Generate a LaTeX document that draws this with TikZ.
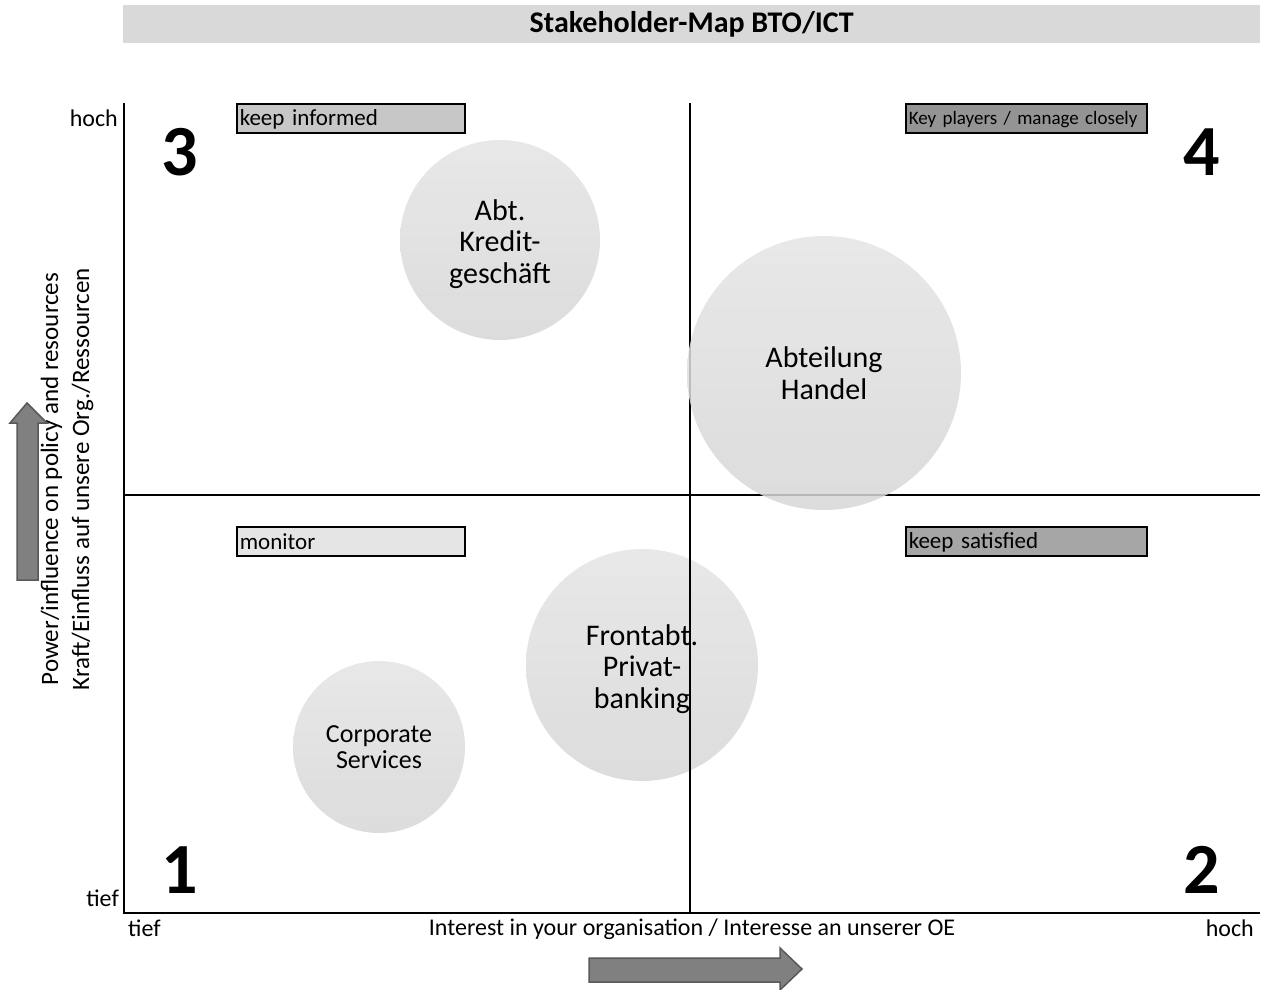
\documentclass[tikz,border=0pt]{standalone}
\usepackage{fontspec}
\setmainfont{Carlito}
\begin{document}
\begin{tikzpicture}[x=1pt,y=-1pt,
  ax/.style={line width=2pt,black},
  lbl/.style={font=\fontsize{24}{28}\selectfont,inner sep=0pt},
  quad/.style={font=\fontsize{72}{72}\selectfont\bfseries,inner sep=0pt},
  tagbox/.style={draw=black,line width=1.6pt,minimum width=228pt,minimum height=29pt,anchor=north west,inner sep=3pt,font=\fontsize{23}{26}\selectfont,text width=222pt,align=left},
  bubble/.style={circle,shading=axis,top color=gray!21,bottom color=gray!32,fill opacity=0.86,text opacity=1,draw=none,align=center,font=\fontsize{30}{31.5}\selectfont,inner sep=0pt},
  blockarrow/.style={draw=black!65,line width=1.5pt,fill=black!50,line join=miter}
]
\newcommand\lowertxt[2]{\raisebox{-#1}[\height][\depth]{#2}}
\useasboundingbox (0,0) rectangle (1269,990);
% title
\node[fill=black!15,minimum width=1137pt,minimum height=38pt,anchor=north west,inner sep=0pt,font=\fontsize{30}{32}\selectfont\bfseries] (title) at (123,5) {Stakeholder-Map BTO/ICT};
% axes
\coordinate (o) at (124,913);
\coordinate (ytop) at (124,103);
\coordinate (xend) at (1260,913);
\coordinate (mt) at (690,103);
\coordinate (mc) at (690,495);
\coordinate (mb) at (690,913);
\coordinate (ml) at (124,495);
\coordinate (mr) at (1260,495);
\draw[ax] (mt) -- (mc);
\draw[ax] (ml) -- (mr);
\draw[ax] (ytop) -- (o) -- (xend);
% bubbles
\node[bubble,minimum size=200pt] (kredit) at (500,240) {\lowertxt{4pt}{\parbox{150pt}{\centering Abt.\\Kredit-\\geschäft}}};
\node[bubble,minimum size=274pt] (handel) at (824,373) {Abteilung\\Handel};
\node[bubble,minimum size=232pt] (front) at (642,665) {\lowertxt{4pt}{\parbox{170pt}{\centering Frontabt.\\Privat-\\banking}}};
\node[bubble,minimum size=172pt,font=\fontsize{26}{26}\selectfont] (corp) at (379,747) {Corporate\\Services};
\draw[ax] (mc) -- (mb);
% axis labels
\node[lbl,anchor=east] (yhoch) at (118,118) {hoch};
\node[lbl,anchor=east] (ytief) at (119,898) {tief};
\node[lbl,anchor=west] (xtief) at (128,928) {tief};
\node[lbl,anchor=east] (xhoch) at (1254,928) {hoch};
\node[lbl] (xlab) at (692,929) {Interest in your organisation / Interesse an unserer OE};
\node[lbl,rotate=90,align=center,font=\fontsize{25}{31}\selectfont] (ylab) at (67,479) {Power/influence on policy and resources\\Kraft/Einfluss auf unsere Org./Ressourcen};
% quadrant numbers
\node[quad] (q3) at (180,152) {3};
\node[quad] (q4) at (1202,152) {4};
\node[quad] (q1) at (180,870) {1};
\node[quad] (q2) at (1202,870) {2};
% tag boxes
\node[tagbox,fill=black!22] (inf) at (236,103) {\lowertxt{1.5pt}{keep informed}};
\node[tagbox,fill=black!42,minimum width=241pt,text width=235pt,font=\fontsize{19}{22}\selectfont] (key) at (905,103) {\lowertxt{1.5pt}{Key players / manage closely}};
\node[tagbox,fill=black!10] (mon) at (236,526) {\lowertxt{0pt}{monitor}};
\node[tagbox,fill=black!35,minimum width=241pt,text width=235pt] (sat) at (905,526) {\lowertxt{1.5pt}{keep satisfied}};
% block arrows
\draw[blockarrow] (17,580) -- (17,423) -- (10,423) -- (27,403) -- (47,423) -- (38,423) -- (38,580) -- cycle;
\draw[blockarrow] (589,958) -- (780,958) -- (780,948) -- (802,969) -- (780,990) -- (780,982) -- (589,982) -- cycle;
\end{tikzpicture}
\end{document}
